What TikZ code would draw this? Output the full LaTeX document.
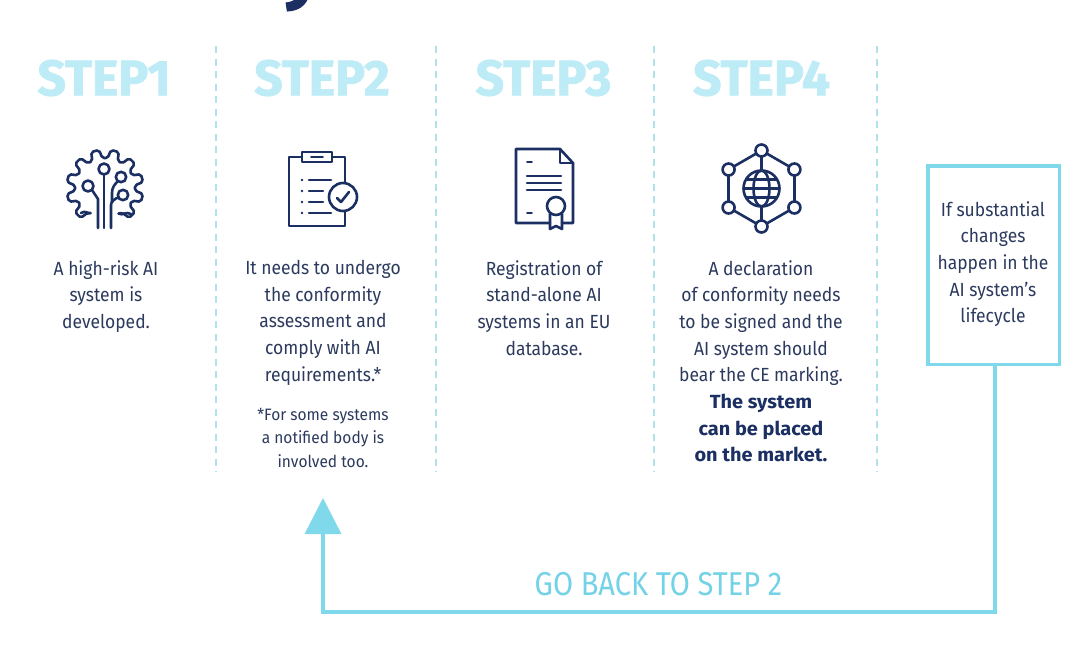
\documentclass[tikz,border=0pt]{standalone}
\usepackage{fontspec}
\setmainfont{Fira Sans}
\newfontfamily\heavyfont[BoldFeatures={FakeBold=1.5}]{Fira Sans}
\usetikzlibrary{arrows.meta}
\definecolor{navy}{HTML}{1B2F63}
\definecolor{bodytxt}{HTML}{2C3A5E}
\definecolor{steptxt}{HTML}{BDECF7}
\definecolor{cyanline}{HTML}{7FD9EA}
\definecolor{dashcol}{HTML}{B0E2E9}
\definecolor{backtxt}{HTML}{74D2E6}
\newcommand{\boldline}[1]{\textcolor{navy}{\scalebox{1.14}[1]{\bfseries #1}}}
\tikzset{
  steplabel/.style={font=\fontsize{50}{50}\selectfont\heavyfont\bfseries,text=steptxt,inner sep=0,anchor=center,xscale=1.0,transform shape},
  bodytext/.style={font=\fontsize{19}{26.7}\selectfont,text=bodytxt,inner sep=0,align=center,anchor=north,xscale=.92,transform shape},
  notetext/.style={font=\fontsize{16.5}{23.5}\selectfont,text=bodytxt,inner sep=0,align=center,anchor=north,xscale=.94,transform shape},
  divider/.style={dashcol,line width=1.6pt,dash pattern=on 7pt off 5.5pt},
  icon/.style={navy,line width=2.6pt,line join=round,line cap=round},
  cyan line/.style={cyanline,line width=3.6pt},
}
\begin{document}
\begin{tikzpicture}[x=1pt,y=-1pt]
\useasboundingbox (0,0) rectangle (1088,646);
\fill[white] (0,0) rectangle (1088,646);
% cut-off title descender
\begin{scope}
\clip (0,0) rectangle (1088,646);
\node[font=\fontsize{72}{72}\selectfont\heavyfont\bfseries,text=navy,inner sep=0,anchor=base] (titley) at (302,-5) {y};
\end{scope}
% dividers
\foreach \x in {216,436,654,877} \draw[divider] (\x,46) -- (\x,472);
% step headers
\node[steplabel] (s1) at (104,78) {STEP1};
\node[steplabel] (s2) at (322,78) {STEP2};
\node[steplabel] (s3) at (543.5,78) {STEP3};
\node[steplabel] (s4) at (761.5,78) {STEP4};
% gear icon
\begin{scope}[shift={(105,188)},icon]
\draw[rounded corners=2pt] (62:29)
  \foreach \a in {45,15,-15,-45,-75,-105,-135,-165,-195,-225} {
    -- (\a+10:30) -- (\a+6:38.5) -- (\a-6:38.5) -- (\a-10:30)
  } -- (-240:29);
\draw (-240:29) .. controls (-17,26) and (-20,22) .. (-24,25);
\draw (62:29) .. controls (18,28) and (21,23) .. (26,26);
\draw (-1,-13) -- (-1,40);
\draw (-13,2) -- (-7,11) -- (-7,40);
\draw (6,40) -- (6,17) .. controls (6,14) and (9,11) .. (14,9);
\draw (13,-7) .. controls (9,-3) and (7,0) .. (7,5) -- (7,14);
\draw[fill=white] (-1,-19) circle (5.5);
\draw[fill=white] (-17,-2) circle (5.5);
\draw[fill=white] (16,-11) circle (5.2);
\draw[fill=white] (18,7) circle (5.2);
\end{scope}
% clipboard icon
\begin{scope}[icon]
\draw (301,157) -- (289,157) -- (289,226) -- (345,226) -- (345,211);
\draw (345,183) -- (345,157) -- (333,157);
\draw (302,152) rectangle (332,162);
\draw[line width=1.6pt] (311,157) -- (323,157);
\foreach \yy in {180,191,202,213} {
  \fill (302,\yy) circle (1.3);
}
\draw (309,180) -- (331,180);
\draw (309,191) -- (323,191);
\draw (309,202) -- (323,202);
\draw (309,213) -- (331,213);
\draw (343,197) circle (14);
\draw (337,198) -- (341,202) -- (349,192);
\end{scope}
% certificate icon
\begin{scope}[icon]
\draw (550,223) -- (516,223) -- (516,149) -- (560,149) -- (573,163) -- (573,223) -- (562,223);
\draw (560,149) -- (560,163) -- (573,163);
\draw[line width=1.8pt] (527,162) -- (532,162);
\draw (527,176) -- (561,176) (527,183) -- (561,183) (527,190) -- (561,190);
\draw[line width=1.8pt] (527,213) -- (532,213);
\draw (556,206) circle (9);
\draw (550,214) -- (550,229) -- (556,226) -- (562,229) -- (562,214);
\end{scope}
% network icon
\begin{scope}[shift={(761.5,188.5)},icon]
\foreach \a in {30,90,150,210,270,330} {
  \draw (\a:38) -- (\a+60:38);
}
\foreach \a in {90,270} { \draw (\a:38) -- (\a:18); }
\foreach \a in {30,90,150,210,270,330} {
  \draw[fill=white] (\a:38) circle (6);
}
\draw (0,0) circle (18);
\draw (0,0) ellipse (8 and 18);
\draw (-18,0) -- (18,0) (-15,-9) -- (15,-9) (-15,9) -- (15,9);
\end{scope}
% body texts
\node[bodytext] (t1) at (106,260) {A high-risk AI\\system is\\developed.};
\node[bodytext] (t2) at (323,260) {It needs to undergo\\the conformity\\assessment and\\comply with AI\\requirements.*};
\node[notetext] (t2n) at (323,408) {*For some systems\\a notified body is\\involved too.};
\node[bodytext] (t3) at (544,260) {Registration of\\stand-alone AI\\systems in an EU\\database.};
\node[bodytext] (t4) at (761,260) {A declaration\\of conformity needs\\to be signed and the\\AI system should\\bear the CE marking.\\\boldline{The system}\\\boldline{can be placed}\\\boldline{on the market.}};
% changes box
\node[draw=cyanline,line width=3.5pt,minimum width=131.5pt,minimum height=198.5pt,inner sep=0,anchor=north west] (box) at (926,164) {};
\node[bodytext] (boxt) at (993,201) {If substantial\\changes\\happen in the\\AI system's\\lifecycle};
% return arrow
\coordinate (corner) at (995,612);
\coordinate (corner2) at (323,612);
\coordinate (tip) at (323,498);
\draw[cyan line,-{Triangle[length=36pt,width=36pt,fill=cyanline]}] (box.south -| corner) -- (corner) -- (corner2) -- (tip);
\node[font=\fontsize{33}{33}\selectfont,text=backtxt,inner sep=0,xscale=.88,transform shape] (back) at (658.5,584) {GO BACK TO STEP 2};
\end{tikzpicture}
\end{document}
